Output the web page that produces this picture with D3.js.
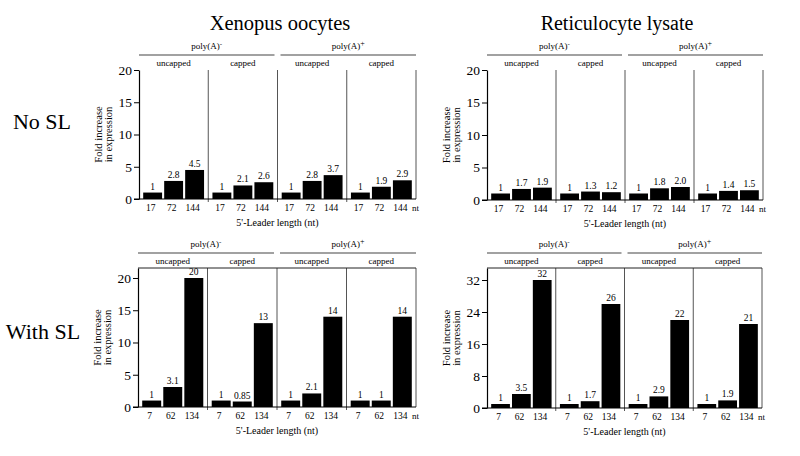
<!DOCTYPE html>
<html><head><meta charset="utf-8">
<script src="https://cdn.jsdelivr.net/npm/d3@7"></script>
<style>body{margin:0;background:#fff}svg{display:block}</style>
</head><body>
<svg id="c" width="800" height="456"></svg>
<script>
const FONT = "Liberation Serif";
const groups = ["poly(A)- uncapped","poly(A)- capped","poly(A)+ uncapped","poly(A)+ capped"];
const subLabels = ["uncapped","capped","uncapped","capped"];
const leadersTop = ["17","72","144"];
const leadersBottom = ["7","62","134"];
const xenNoSL = [1,2.8,4.5, 1,2.1,2.6, 1,2.8,3.7, 1,1.9,2.9];
const xenNoSLLabels = ["1","2.8","4.5","1","2.1","2.6","1","2.8","3.7","1","1.9","2.9"];
const retNoSL = [1,1.7,1.9, 1,1.3,1.2, 1,1.8,2.0, 1,1.4,1.5];
const retNoSLLabels = ["1","1.7","1.9","1","1.3","1.2","1","1.8","2.0","1","1.4","1.5"];
const xenSL = [1,3.1,20, 1,0.85,13, 1,2.1,14, 1,1,14];
const xenSLLabels = ["1","3.1","20","1","0.85","13","1","2.1","14","1","1","14"];
const retSL = [1,3.5,32, 1,1.7,26, 1,2.9,22, 1,1.9,21];
const retSLLabels = ["1","3.5","32","1","1.7","26","1","2.9","22","1","1.9","21"];
const ticksTop = [0,5,10,15,20];
const ticksXenSL = [0,5,10,15,20];
const ticksRetSL = [0,8,16,24,32];

const svg = d3.select("#c").attr("font-family", FONT);

function txt(sel){ return sel.append("text").attr("font-family", FONT).attr("fill","#000"); }

function panel(o){
  const g = svg.append("g");
  const x0 = d3.scaleBand().domain(groups).range([o.left, o.right]);
  const x1 = d3.scaleBand().domain(o.leaders).range([0, x0.bandwidth()]).paddingInner(0.1).paddingOuter(0.2);
  const y = d3.scaleLinear().domain([0, o.ymax]).range([o.bottom, o.top]);
  const data = o.values.map((v,i)=>({g:groups[Math.floor(i/3)], l:o.leaders[i%3], v, lab:o.labels[i]}));

  const half = (o.right - o.left)/2;
  [["-",o.left,o.left+half-3],["+",o.left+half+3,o.right]].forEach(([s,a,b])=>{
    g.append("line").attr("x1",a).attr("x2",b).attr("y1",o.top-15).attr("y2",o.top-15)
      .attr("stroke","#444").attr("stroke-width",1.2);
    const t = txt(g).attr("x",(a+b)/2).attr("y",o.top-21).attr("text-anchor","middle").attr("font-size",9);
    t.append("tspan").text("poly(A)");
    t.append("tspan").attr("font-size",s==="+"?8:7).attr("dy",-3).text(s);
  });
  groups.forEach((gr,i)=>{
    txt(g).attr("x",x0(gr)+x0.bandwidth()/2).attr("y",o.top-4)
      .attr("text-anchor","middle").attr("font-size",9).text(subLabels[i]);
  });
  groups.slice(1).forEach(gr=>{
    g.append("line").attr("x1",x0(gr)).attr("x2",x0(gr)).attr("y1",o.top).attr("y2",o.bottom+3)
      .attr("stroke","#555").attr("stroke-width",1);
  });
  g.append("line").attr("x1",o.right).attr("x2",o.right).attr("y1",o.top).attr("y2",o.bottom)
    .attr("stroke","#555").attr("stroke-width",1);
  if(o.boxTop){
    g.append("line").attr("x1",o.left).attr("x2",o.right).attr("y1",o.top).attr("y2",o.top)
      .attr("stroke","#222").attr("stroke-width",1);
  }
  g.selectAll("rect.bar").data(data).join("rect").attr("class","bar")
    .attr("x",d=>x0(d.g)+x1(d.l)).attr("width",x1.bandwidth())
    .attr("y",d=>y(d.v)).attr("height",d=>y(0)-y(d.v)).attr("fill","#000");
  data.forEach(d=>{
    txt(g).attr("x",x0(d.g)+x1(d.l)+x1.bandwidth()/2).attr("y",y(d.v)-3)
      .attr("text-anchor","middle").attr("font-size",9.5).text(d.lab);
    txt(g).attr("x",x0(d.g)+x1(d.l)+x1.bandwidth()/2-2).attr("y",o.bottom+12)
      .attr("text-anchor","middle").attr("font-size",9.5).text(d.l);
  });
  g.append("line").attr("x1",o.left-5).attr("x2",o.right).attr("y1",o.bottom).attr("y2",o.bottom)
    .attr("stroke","#000").attr("stroke-width",1.2);
  txt(g).attr("x",o.right-4).attr("y",o.bottom+12).attr("font-size",9).text("nt");
  const ya = g.append("g").attr("transform",`translate(${o.left},0)`)
    .call(d3.axisLeft(y).tickValues(o.ticks).tickSize(5).tickPadding(2).tickSizeOuter(0));
  ya.attr("font-family", FONT);
  ya.select(".domain").attr("stroke","#000").attr("stroke-width",1.2);
  ya.selectAll("text").attr("font-size",13.5).attr("font-family",FONT).attr("fill","#000");
  const yc = (o.top+o.bottom)/2;
  txt(g).attr("transform",`translate(${o.left-37},${yc}) rotate(-90)`)
    .attr("text-anchor","middle").attr("font-size",10.5).text("Fold increase");
  txt(g).attr("transform",`translate(${o.left-27},${yc}) rotate(-90)`)
    .attr("text-anchor","middle").attr("font-size",10.5).text("in expression");
  txt(g).attr("x",(o.left+o.right)/2).attr("y",o.bottom+27)
    .attr("text-anchor","middle").attr("font-size",10).text("5'-Leader length (nt)");
}

panel({left:139,right:416,top:70,bottom:199,ymax:20,ticks:ticksTop,values:xenNoSL,labels:xenNoSLLabels,leaders:leadersTop,boxTop:false});
panel({left:487,right:763,top:70,bottom:200,ymax:20,ticks:ticksTop,values:retNoSL,labels:retNoSLLabels,leaders:leadersTop,boxTop:false});
panel({left:138,right:416,top:268,bottom:407,ymax:21.55,ticks:ticksXenSL,values:xenSL,labels:xenSLLabels,leaders:leadersBottom,boxTop:true});
panel({left:487,right:762,top:268,bottom:408,ymax:35,ticks:ticksRetSL,values:retSL,labels:retSLLabels,leaders:leadersBottom,boxTop:true});

txt(svg).attr("x",280).attr("y",30).attr("text-anchor","middle").attr("font-size",20.5).text("Xenopus oocytes");
txt(svg).attr("x",617).attr("y",30).attr("text-anchor","middle").attr("font-size",20).text("Reticulocyte lysate");
txt(svg).attr("x",42).attr("y",129).attr("text-anchor","middle").attr("font-size",22).text("No SL");
txt(svg).attr("x",43).attr("y",339).attr("text-anchor","middle").attr("font-size",22).text("With SL");
</script>
</body></html>
